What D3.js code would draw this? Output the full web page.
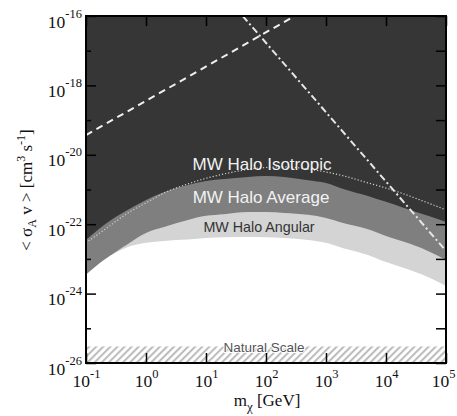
<!DOCTYPE html>
<html>
<head>
<meta charset="utf-8">
<script src="https://cdn.jsdelivr.net/npm/d3@7"></script>
<style>
  body { margin: 0; background: #fff; }
  .serif { font-family: "Liberation Serif", "DejaVu Serif", serif; fill: #111; }
  .sans { font-family: "Liberation Sans", Arial, sans-serif; }
  .axis line { stroke: #000; stroke-width: 1.5; }
  .axis path { display: none; }
</style>
</head>
<body>
<div id="chart"></div>
<script>
// mass grid (GeV) shared by all the halo curves
const masses = [0.1, 0.2, 0.5, 1, 2, 5, 10, 20, 50, 100, 200, 500, 1e3, 2e3, 5e3, 1e4, 2e4, 5e4, 1e5];

// upper edge of the medium grey band (MW Halo Average)
const haloAverage = [3.5e-23, 9.5e-23, 2.6e-22, 5.0e-22, 8.5e-22, 1.35e-21, 1.76e-21, 2.0e-21, 2.3e-21, 2.45e-21,
  2.3e-21, 1.86e-21, 1.55e-21, 1.02e-21, 6.5e-22, 4.4e-22, 2.95e-22, 1.74e-22, 1.15e-22];
// upper edge of the light grey band (MW Halo Angular)
const haloAngular = [3.5e-24, 9.3e-24, 2.7e-23, 5.6e-23, 8.3e-23, 1.32e-22, 1.74e-22, 1.95e-22, 2.24e-22, 2.24e-22,
  2.1e-22, 1.86e-22, 1.51e-22, 1.07e-22, 7.2e-23, 4.6e-23, 3.1e-23, 1.7e-23, 9.3e-24];
// lower edge of the light grey band
const haloAngularLow = [3.5e-24, 9.3e-24, 2.2e-23, 2.9e-23, 3.3e-23, 3.6e-23, 4.0e-23, 4.2e-23, 4.3e-23, 4.2e-23,
  4.0e-23, 3.5e-23, 2.9e-23, 2.0e-23, 1.3e-23, 8.1e-24, 5.5e-24, 3.0e-24, 1.66e-24];
// dotted isotropic limit
const haloIsotropic = [2.9e-23, 6.8e-23, 2.1e-22, 4.1e-22, 7.9e-22, 1.45e-21, 2.1e-21, 2.8e-21, 3.8e-21, 4.3e-21,
  4.5e-21, 3.9e-21, 3.2e-21, 2.45e-21, 1.55e-21, 1.1e-21, 7.4e-22, 4.1e-22, 2.6e-22];

// straight lines (end points)
const dashedLine = [[0.1, 3.7e-20], [300, 1e-16]];
const dashDotLine = [[41, 1e-16], [1e5, 1.7e-23]];

// natural scale band
const naturalScale = [1e-26, 3e-26];

// ticks
const xTicks = [1e-1, 1, 1e1, 1e2, 1e3, 1e4, 1e5];
const yMajor = [1e-26, 1e-24, 1e-22, 1e-20, 1e-18, 1e-16];
const yMinor = [1e-25, 1e-23, 1e-21, 1e-19, 1e-17];
const yAll = [1e-26, 1e-25, 1e-24, 1e-23, 1e-22, 1e-21, 1e-20, 1e-19, 1e-18, 1e-17, 1e-16];

const margin = {top: 16, right: 11, bottom: 53, left: 86};
const W = 457, H = 416;
const width = W - margin.left - margin.right;
const height = H - margin.top - margin.bottom;

const svg = d3.select("#chart").append("svg")
    .attr("width", W)
    .attr("height", H);

const defs = svg.append("defs");
defs.append("clipPath").attr("id", "plotClip")
    .append("rect").attr("width", width).attr("height", height);

const hatch = defs.append("pattern")
    .attr("id", "hatch")
    .attr("patternUnits", "userSpaceOnUse")
    .attr("width", 5)
    .attr("height", 5)
    .attr("patternTransform", "rotate(45)");
hatch.append("rect").attr("width", 5).attr("height", 5).attr("fill", "#fff");
hatch.append("line")
    .attr("x1", 1).attr("x2", 1).attr("y1", 0).attr("y2", 5)
    .attr("stroke", "#bdbdbd").attr("stroke-width", 2.2);

const g = svg.append("g").attr("transform", `translate(${margin.left},${margin.top})`);

const x = d3.scaleLog().domain([1e-1, 1e5]).range([0, width]);
const y = d3.scaleLog().domain([1e-26, 1e-16]).range([height, 0]);

const plot = g.append("g").attr("clip-path", "url(#plotClip)");

// dark background (excluded region)
plot.append("rect")
    .attr("width", width).attr("height", height)
    .attr("fill", "#363636");

const band = (vals) => masses.map((m, i) => ({m, s: vals[i]}));

const area = d3.area()
    .x(d => x(d.m))
    .y0(height)
    .y1(d => y(d.s))
    .curve(d3.curveMonotoneX);

plot.append("path").datum(band(haloAverage)).attr("d", area).attr("fill", "#7f7f7f");
plot.append("path").datum(band(haloAngular)).attr("d", area).attr("fill", "#d4d4d4");
plot.append("path").datum(band(haloAngularLow)).attr("d", area).attr("fill", "#fff");

// natural scale hatch
plot.append("rect")
    .attr("x", 0).attr("width", width)
    .attr("y", y(naturalScale[1]))
    .attr("height", y(naturalScale[0]) - y(naturalScale[1]))
    .attr("fill", "url(#hatch)");

const line = d3.line()
    .x(d => x(d.m))
    .y(d => y(d.s))
    .curve(d3.curveMonotoneX);

plot.append("path").datum(band(haloIsotropic)).attr("d", line)
    .attr("fill", "none").attr("stroke", "#d0d0d0")
    .attr("stroke-width", 1.2).attr("stroke-dasharray", "1.2,2");

const straight = d3.line().x(d => x(d[0])).y(d => y(d[1]));

plot.append("path").datum(dashedLine).attr("d", straight)
    .attr("fill", "none").attr("stroke", "#f0f0f0")
    .attr("stroke-width", 2).attr("stroke-dasharray", "7,5");

plot.append("path").datum(dashDotLine).attr("d", straight)
    .attr("fill", "none").attr("stroke", "#e6e6e6")
    .attr("stroke-width", 2).attr("stroke-dasharray", "7,3,2,3");

// labels inside the plot
g.append("text").attr("class", "sans")
    .attr("x", 176).attr("y", 154)
    .attr("text-anchor", "middle").attr("font-size", 17)
    .attr("fill", "#f2f2f2").text("MW Halo Isotropic");

g.append("text").attr("class", "sans")
    .attr("x", 175).attr("y", 187)
    .attr("text-anchor", "middle").attr("font-size", 17)
    .attr("fill", "#f2f2f2").text("MW Halo Average");

g.append("text").attr("class", "sans")
    .attr("x", 173).attr("y", 216)
    .attr("text-anchor", "middle").attr("font-size", 14.3)
    .attr("fill", "#333").text("MW Halo Angular");

g.append("text").attr("class", "sans")
    .attr("x", 178).attr("y", 336)
    .attr("text-anchor", "middle").attr("font-size", 13.5)
    .attr("fill", "#555")
    .attr("stroke", "#fff").attr("stroke-width", 2).attr("paint-order", "stroke")
    .text("Natural Scale");

// power-of-ten labels
function powLabel(sel, dyExp) {
    sel.each(function(d) {
        const t = d3.select(this);
        const e = Math.round(Math.log10(d));
        t.text(null).attr("class", "serif").attr("font-size", 17.5);
        t.append("tspan").text("10");
        t.append("tspan").attr("dy", dyExp).attr("font-size", 12.5).text(e);
    });
}

// bottom axis
const xb = g.append("g").attr("class", "axis")
    .attr("transform", `translate(0,${height})`)
    .call(d3.axisBottom(x).tickValues(xTicks).tickSize(-10).tickSizeOuter(0));
xb.selectAll(".tick text").call(powLabel, -9)
    .attr("x", d => d === 1e5 ? -3 : 0)
    .attr("y", 24).attr("dy", 0).attr("fill", "#111");

// top axis
g.append("g").attr("class", "axis")
    .call(d3.axisTop(x).tickValues(xTicks).tickSize(-10).tickSizeOuter(0).tickFormat(""));

// left axis
const yl = g.append("g").attr("class", "axis")
    .call(d3.axisLeft(y).tickValues(yMajor).tickSize(-10).tickSizeOuter(0));
yl.selectAll(".tick text").call(powLabel, -10)
    .attr("x", -4).attr("y", 11).attr("dy", 0).attr("fill", "#111");
g.append("g").attr("class", "axis")
    .call(d3.axisLeft(y).tickValues(yMinor).tickSize(-5).tickSizeOuter(0).tickFormat(""));

// right axis
g.append("g").attr("class", "axis")
    .attr("transform", `translate(${width},0)`)
    .call(d3.axisRight(y).tickValues(yAll).tickSize(-10).tickSizeOuter(0).tickFormat(""));

// frame
g.append("rect")
    .attr("width", width).attr("height", height)
    .attr("fill", "none").attr("stroke", "#000").attr("stroke-width", 2);

// axis titles
const xt = svg.append("text").attr("class", "serif")
    .attr("x", 267).attr("y", 406)
    .attr("text-anchor", "middle").attr("font-size", 17);
xt.append("tspan").text("m");
xt.append("tspan").attr("dy", 5).attr("font-size", 13).text("χ");
xt.append("tspan").attr("dy", -5).text(" [GeV]");

const yt = svg.append("text").attr("class", "serif")
    .attr("transform", "translate(32,190) rotate(-90)")
    .attr("text-anchor", "middle").attr("font-size", 17);
yt.append("tspan").text("< σ");
yt.append("tspan").attr("dy", 4).attr("font-size", 12).text("A");
yt.append("tspan").attr("dy", -4).text(" v > [cm");
yt.append("tspan").attr("dy", -7).attr("font-size", 12).text("3");
yt.append("tspan").attr("dy", 7).text(" s");
yt.append("tspan").attr("dy", -7).attr("font-size", 12).text("-1");
yt.append("tspan").attr("dy", 7).text("]");
</script>
</body>
</html>
